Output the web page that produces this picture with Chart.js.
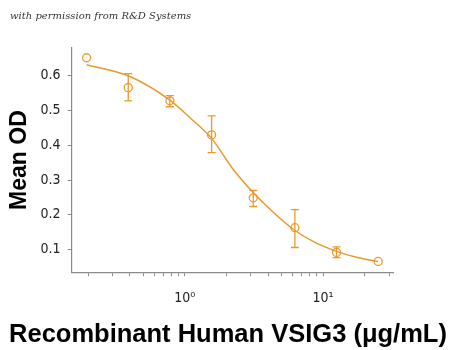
<!DOCTYPE html>
<html lang="en">
<head>
  <meta charset="UTF-8" />
  <title>VSIG3 binding curve</title>
  <script src="https://cdn.jsdelivr.net/npm/chart.js"></script>
  <style>
    body { margin: 0; background: white; }
    .wrap { position: relative; width: 450px; height: 350px; }
    .credit {
      position: absolute; left: 10px; top: 10px;
      font-family: 'DejaVu Serif', serif; font-style: italic;
      font-size: 10px; color: #333;
    }
    .xtitle {
      position: absolute; left: 0; width: 456px; top: 319px;
      text-align: center;
      font-family: 'Liberation Sans', Arial, sans-serif; font-weight: bold;
      font-size: 25.5px; color: #000;
    }
  </style>
</head>
<body>
  <div class="wrap">
    <div class="credit">with permission from R&amp;D Systems</div>
    <canvas id="chart" width="450" height="350"></canvas>
    <div class="xtitle">Recombinant Human VSIG3 (&mu;g/mL)</div>
  </div>

  <script>
    // measured points (conc in ug/mL)
    const conc = [0.195, 0.39, 0.78, 1.5625, 3.125, 6.25, 12.5, 25];
    const meanOD = [0.652, 0.566, 0.528, 0.430, 0.249, 0.163, 0.092, 0.066];
    const errLow = [0.652, 0.528, 0.511, 0.379, 0.224, 0.106, 0.077, 0.066];
    const errHigh = [0.652, 0.606, 0.543, 0.485, 0.270, 0.215, 0.108, 0.066];

    // fitted curve
    const fitConc = [0.195, 0.39, 0.78, 1.1, 1.5625, 2.2, 3.125, 4.4, 6.25, 8.8, 12.5, 17.7, 25];
    const fitOD = [0.632, 0.600, 0.530, 0.478, 0.420, 0.335, 0.264, 0.206, 0.155, 0.120, 0.095, 0.077, 0.066];

    const xTicks = [0.2, 0.3, 0.4, 0.5, 0.6, 0.7, 0.8, 0.9, 1, 2, 3, 4, 5, 6, 7, 8, 9, 10, 20, 30];
    const xLabels = { 1: '10\u2070', 10: '10\u00b9' };
    const yTicks = [0.1, 0.2, 0.3, 0.4, 0.5, 0.6];

    const orange = '#E99A2C';
    const axisGrey = '#8a8a8a';
    const tickFont = { family: "'DejaVu Sans Condensed', sans-serif", size: 14 };
    const titleFont = { family: "'Liberation Sans', Arial, sans-serif", size: 23, weight: 'bold' };

    const errorBars = {
      id: 'errorBars',
      afterDatasetsDraw(chart) {
        const { ctx, scales: { x, y } } = chart;
        ctx.save();
        ctx.strokeStyle = orange;
        ctx.lineWidth = 1.3;
        conc.forEach((c, i) => {
          if (errHigh[i] - errLow[i] < 0.01) return;
          const px = x.getPixelForValue(c);
          const top = y.getPixelForValue(errHigh[i]);
          const bot = y.getPixelForValue(errLow[i]);
          ctx.beginPath();
          ctx.moveTo(px, top); ctx.lineTo(px, bot);
          ctx.moveTo(px - 4, top); ctx.lineTo(px + 4, top);
          ctx.moveTo(px - 4, bot); ctx.lineTo(px + 4, bot);
          ctx.stroke();
        });
        ctx.restore();
      }
    };

    new Chart(document.getElementById('chart'), {
      type: 'line',
      data: {
        datasets: [{
          data: fitConc.map((c, i) => ({ x: c, y: fitOD[i] })),
          borderColor: orange,
          borderWidth: 1.5,
          pointRadius: 0,
          cubicInterpolationMode: 'monotone',
          fill: false
        }, {
          data: conc.map((c, i) => ({ x: c, y: meanOD[i] })),
          showLine: false,
          pointRadius: 4,
          pointBorderWidth: 1.3,
          pointBorderColor: orange,
          pointBackgroundColor: 'rgba(0,0,0,0)'
        }]
      },
      options: {
        responsive: false,
        animation: false,
        layout: { padding: { top: 48, right: 57, left: 4, bottom: 29 } },
        plugins: { legend: { display: false }, tooltip: { enabled: false } },
        scales: {
          x: {
            type: 'logarithmic',
            min: 0.152,
            max: 32,
            afterBuildTicks: s => { s.ticks = xTicks.map(v => ({ value: v })); },
            ticks: {
              autoSkip: false,
              maxRotation: 0,
              color: '#222',
              font: tickFont,
              padding: 14,
              callback: v => xLabels[v] || ''
            },
            grid: { drawOnChartArea: false, tickLength: 4, color: axisGrey },
            border: { color: axisGrey, width: 1.2 }
          },
          y: {
            min: 0.035,
            max: 0.68,
            afterBuildTicks: s => { s.ticks = yTicks.map(v => ({ value: v })); },
            ticks: {
              color: '#222',
              font: tickFont,
              padding: 7,
              callback: v => v.toFixed(1)
            },
            grid: { drawOnChartArea: false, tickLength: 4, color: axisGrey },
            border: { color: axisGrey, width: 1.2 },
            title: {
              display: true,
              text: 'Mean OD',
              color: '#000',
              font: titleFont,
              padding: { top: 2, bottom: 0 }
            }
          }
        }
      },
      plugins: [errorBars]
    });
  </script>
</body>
</html>
